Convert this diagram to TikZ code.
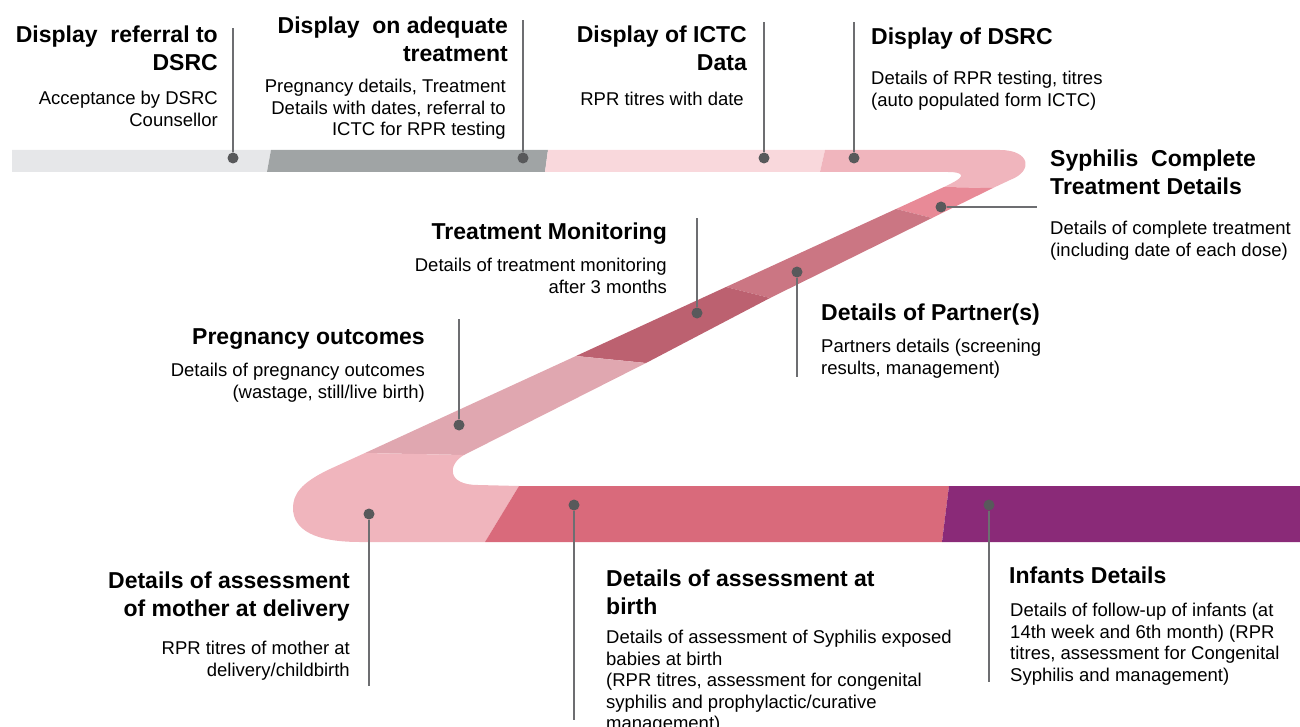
\documentclass[tikz,border=0pt]{standalone}
\usepackage{fontspec}
\setmainfont{Liberation Sans}
\usepackage{tikz}
\usepackage{xcolor}

\definecolor{gris clair}{HTML}{E6E7E9}
\definecolor{gris fonce}{HTML}{A0A4A5}
\definecolor{rose pale}{HTML}{F9D8DC}
\definecolor{rose}{HTML}{F0B5BD}
\definecolor{rose vif}{HTML}{E88A97}
\definecolor{vieux rose}{HTML}{CB7683}
\definecolor{rose sombre}{HTML}{BC6170}
\definecolor{rose poudre}{HTML}{E0A7B0}
\definecolor{framboise}{HTML}{D96A7B}
\definecolor{prune}{HTML}{8A2A78}
\definecolor{point}{HTML}{58595B}
\definecolor{trait}{HTML}{6D6E71}

\begin{document}
\begin{tikzpicture}[x=1pt,y=-1pt,
   stage title/.style={font=\fontsize{23}{28}\selectfont\bfseries,inner sep=0pt},
   stage detail/.style={font=\fontsize{18.5}{21.5}\selectfont,inner sep=0pt},
   stage dot/.style={circle,fill=point,inner sep=0pt,minimum size=11pt},
   stage line/.style={draw=trait,line width=1.3pt}]

  \useasboundingbox (0,0) rectangle (1300,727);

  \fill[gris clair] (12,150) -- (271,150) -- (267,172) -- (12,172) -- cycle;
  \fill[gris fonce] (271,150) -- (548,150) -- (545,172) -- (267,172) -- cycle;
  \fill[rose pale] (548,150) -- (825,150) -- (820,172) -- (545,172) -- cycle;
  \fill[rose] (825,150) -- (1000,150) .. controls (1030,150) and (1034,171) .. (1010,180)
    -- (993,188) -- (944,187) -- (952,183) .. controls (966,176) and (963,172) .. (948,172)
    -- (820,172) -- cycle;
  \fill[rose vif] (944,187) -- (993,188) -- (932,218) -- (896,209) -- cycle;
  \fill[vieux rose] (896,209) -- (932,218) -- (770,298) -- (726,287) -- cycle;
  \fill[rose sombre] (726,287) -- (770,298) -- (646,363) -- (576,356) -- cycle;
  \fill[rose poudre] (576,356) -- (646,363) -- (464,455) -- (365,453) -- cycle;
  \fill[rose] (365,453) -- (464,455) .. controls (448,464) and (446,485) .. (478,485)
    -- (519,486) -- (485,542) -- (360,542) .. controls (315,542) and (293,530) .. (293,508)
    .. controls (293,495) and (300,483) .. (330,469) -- cycle;
  \fill[framboise] (519,486) -- (949,486) -- (942,542) -- (485,542) -- cycle;
  \fill[prune] (949,486) -- (1300,486) -- (1300,542) -- (942,542) -- cycle;

  \node[stage dot] (ref) at (233,158) {};
  \node[stage dot] (adq) at (523,158) {};
  \node[stage dot] (ictc) at (764,158) {};
  \node[stage dot] (dsrc) at (854,158) {};
  \node[stage dot] (sct) at (941,207) {};
  \node[stage dot] (prt) at (797,272) {};
  \node[stage dot] (mon) at (697,313) {};
  \node[stage dot] (preg) at (459,425) {};
  \node[stage dot] (mom) at (369,514) {};
  \node[stage dot] (brt) at (574,505) {};
  \node[stage dot] (inf) at (989,505) {};

  \coordinate (ref end) at (233,28);
  \coordinate (adq end) at (523,20);
  \coordinate (ictc end) at (764,22);
  \coordinate (dsrc end) at (854,22);
  \coordinate (sct end) at (1037,207);
  \coordinate (prt end) at (797,377);
  \coordinate (mon end) at (697,218);
  \coordinate (preg end) at (459,319);
  \coordinate (mom end) at (369,686);
  \coordinate (brt end) at (574,720);
  \coordinate (inf end) at (989,682);

  \foreach \from in {ref,adq,ictc,dsrc,sct,prt,mon,preg,mom,brt,inf}
    \draw[stage line] (\from) -- (\from\space end);

  \node[stage title,anchor=north east,align=right] (ref t) at (218,26) {Display~ referral to\\DSRC};
  \node[stage detail,anchor=north east,align=right] (ref d) at (218,91) {Acceptance by DSRC\\Counsellor};

  \node[stage title,anchor=north east,align=right] (adq t) at (508,17) {Display~ on adequate\\treatment};
  \node[stage detail,anchor=north east,align=right] (adq d) at (506,79) {Pregnancy details, Treatment\\Details with dates, referral to\\ICTC for RPR testing};

  \node[stage title,anchor=north east,align=right] (ictc t) at (747,26) {Display of ICTC\\Data};
  \node[stage detail,anchor=north east,align=right] (ictc d) at (744,92) {RPR titres with date};

  \node[stage title,anchor=north west,align=left] (dsrc t) at (871,28) {Display of DSRC};
  \node[stage detail,anchor=north west,align=left] (dsrc d) at (871,71) {Details of RPR testing, titres\\(auto populated form ICTC)};

  \node[stage title,anchor=north west,align=left] (sct t) at (1050,150) {Syphilis~ Complete\\Treatment Details};
  \node[stage detail,anchor=north west,align=left] (sct d) at (1050,221) {Details of complete treatment\\(including date of each dose)};

  \node[stage title,anchor=north east,align=right] (mon t) at (667,223) {Treatment Monitoring};
  \node[stage detail,anchor=north east,align=right] (mon d) at (667,258) {Details of treatment monitoring\\after 3 months};

  \node[stage title,anchor=north west,align=left] (prt t) at (821,304) {Details of Partner(s)};
  \node[stage detail,anchor=north west,align=left] (prt d) at (821,339) {Partners details (screening\\results, management)};

  \node[stage title,anchor=north east,align=right] (preg t) at (425,328) {Pregnancy outcomes};
  \node[stage detail,anchor=north east,align=right] (preg d) at (425,363) {Details of pregnancy outcomes\\(wastage, still/live birth)};

  \node[stage title,anchor=north east,align=right] (mom t) at (350,572) {Details of assessment\\of mother at delivery};
  \node[stage detail,anchor=north east,align=right] (mom d) at (350,641) {RPR titres of mother at\\delivery/childbirth};

  \node[stage title,anchor=north west,align=left] (brt t) at (606,570) {Details of assessment at\\birth};
  \node[stage detail,anchor=north west,align=left] (brt d) at (606,630) {Details of assessment of Syphilis exposed\\babies at birth\\(RPR titres, assessment for congenital\\syphilis and prophylactic/curative\\management)};

  \node[stage title,anchor=north west,align=left] (inf t) at (1009,567) {Infants Details};
  \node[stage detail,anchor=north west,align=left] (inf d) at (1010,603) {Details of follow-up of infants (at\\14th week and 6th month) (RPR\\titres, assessment for Congenital\\Syphilis and management)};
\end{tikzpicture}
\end{document}
